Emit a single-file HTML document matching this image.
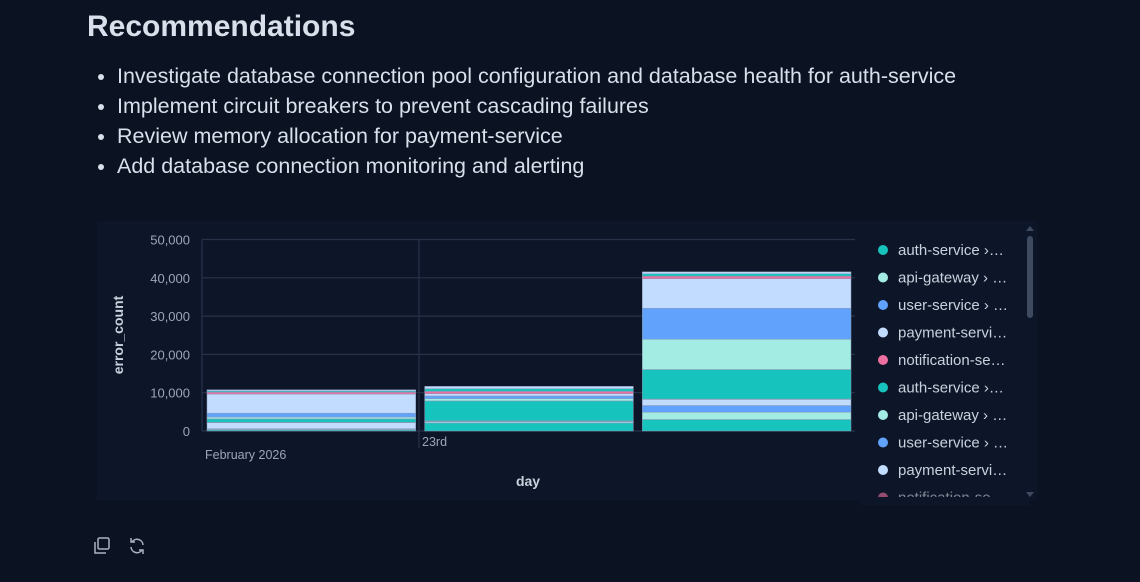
<!DOCTYPE html>
<html><head><meta charset="utf-8"><style>
body{margin:0;width:1140px;height:582px;background:#0b1322;font-family:"Liberation Sans",sans-serif;overflow:hidden;position:relative;color:#d8dee9}
h2{position:absolute;left:87px;top:10px;margin:0;font-size:30px;font-weight:bold;color:#d9dfeb}
ul{position:absolute;left:97px;top:61px;margin:0;padding-left:20px;font-size:21.5px;line-height:30px;color:#d9dfeb}
#panel{position:absolute;left:97px;top:221px;width:940px;height:279px;background:#0d1628}
.ic{position:absolute;top:536px;width:20px;height:20px}
</style></head><body>
<h2>Recommendations</h2>
<ul>
<li>Investigate database connection pool configuration and database health for auth-service</li>
<li>Implement circuit breakers to prevent cascading failures</li>
<li>Review memory allocation for payment-service</li>
<li>Add database connection monitoring and alerting</li>
</ul>
<div id="panel"></div>
<svg width="1140" height="582" style="position:absolute;left:0;top:0" id="svg"></svg>
<svg class="ic" style="left:92px" viewBox="0 0 20 20"><rect x="6" y="2" width="11" height="11" rx="1.5" fill="none" stroke="#aab3c3" stroke-width="1.5"/><path d="M3 6v11h11" fill="none" stroke="#aab3c3" stroke-width="1.5"/></svg>
<svg class="ic" style="left:127px" viewBox="0 0 20 20"><path d="M16 9a6 6 0 0 0-11-3M4 11a6 6 0 0 0 11 3" fill="none" stroke="#aab3c3" stroke-width="1.5"/><path d="M4 2v4h4M16 18v-4h-4" fill="none" stroke="#aab3c3" stroke-width="1.5"/></svg>
<script>
const days=["February 2026","23rd","24th"];
const seriesNames=["auth-service › db","api-gateway › timeout","user-service › 5xx","payment-service › oom","notification-service › queue","auth-service › conn","api-gateway › 5xx","user-service › timeout","payment-service › memory","notification-service › retry","auth-service › other","api-gateway › other"];
const seriesColors=["#16c3bd","#a3ece4","#60a2fc","#c2dcff","#ec6fa0","#16c3bd","#a3ece4","#60a2fc","#c2dcff","#ec6fa0","#16c3bd","#c2dcff"];
const s0=[300,2100,3000];
const s1=[200,300,1900];
const s2=[100,100,1750];
const s3=[1600,100,1600];
const s4=[50,50,100];
const s5=[900,5200,7700];
const s6=[500,600,7900];
const s7=[1000,700,8100];
const s8=[5000,600,7700];
const s9=[500,600,700];
const s10=[300,700,600];
const s11=[300,600,500];
const series=[s0,s1,s2,s3,s4,s5,s6,s7,s8,s9,s10,s11];
const yTicks=[0,10000,20000,30000,40000,50000];
const legendLabels=['auth-service ›…','api-gateway › …','user-service › …','payment-servi…','notification-se…','auth-service ›…','api-gateway › …','user-service › …','payment-servi…','notification-se…'];
const NS="http://www.w3.org/2000/svg";
const svg=document.getElementById('svg');
function mk(t,a,p){const e=document.createElementNS(NS,t);for(const k in a)e.setAttribute(k,a[k]);(p||svg).appendChild(e);return e;}
const X0=202,X1=855,Y0=431,Y1=239.5;
const y=v=>Y0-(v/50000)*(Y0-Y1);
const bw=(X1-X0)/days.length;
const xb=i=>X0+i*bw;
yTicks.forEach(t=>{
 const g=mk('line',{x1:X0,x2:X1,y1:y(t),y2:y(t),stroke:'#27324a','stroke-width':1.2});
 
 const tx=mk('text',{x:190,y:y(t)+5,'text-anchor':'end','font-size':13,fill:'#9aa6b8'});
 tx.textContent=t.toLocaleString('en-US');
 
});
mk('line',{x1:X0,x2:X0,y1:Y1,y2:Y0,stroke:'#27324a','stroke-width':1.2});
const vg=mk('line',{x1:419,x2:419,y1:Y1,y2:448,stroke:'#27324a','stroke-width':1.2});

days.forEach((d,i)=>{
 let acc=0;
 series.forEach((s,j)=>{
  const v=s[i];
  const r=mk('rect',{x:xb(i)+5,width:bw-9,y:y(acc+v),height:y(acc)-y(acc+v),fill:seriesColors[j],stroke:'#8a9ab8','stroke-width':0.5});
  
  acc+=v;
 });
});
let l1=mk('text',{x:205,y:459,'font-size':12.5,fill:'#9aa6b8'});l1.textContent=days[0];

let l2=mk('text',{x:422,y:446,'font-size':12.5,fill:'#9aa6b8'});l2.textContent=days[1];

let xt=mk('text',{x:528,y:486,'text-anchor':'middle','font-size':14,'font-weight':'bold',fill:'#c9d1dd'});xt.textContent='day';

let yt=mk('text',{x:0,y:0,'text-anchor':'middle','font-size':14,'font-weight':'bold',fill:'#c9d1dd',transform:'translate(123,335) rotate(-90)'});yt.textContent='error_count';

legendLabels.forEach((lab,k)=>{
 const ly=250+k*27.5;
 const c=mk('circle',{cx:883,cy:ly,r:5,fill:seriesColors[k],opacity:k==9?0.6:1});
 
 const t=mk('text',{x:898,y:ly+5,'font-size':15,fill:'#c9d1dd',opacity:k==9?0.6:1});
 t.textContent=lab;
 
});
mk('rect',{x:860,y:497,width:170,height:8,fill:'#0d1628'});
const sb=mk('rect',{x:1027,y:236,width:6,height:82,rx:3,fill:'#3e4a60'});

mk('path',{d:'M1026 231l4-5 4 5z',fill:'#3e4a60'});
mk('path',{d:'M1026 492l4 5 4-5z',fill:'#3e4a60'});
</script>
</body></html>
